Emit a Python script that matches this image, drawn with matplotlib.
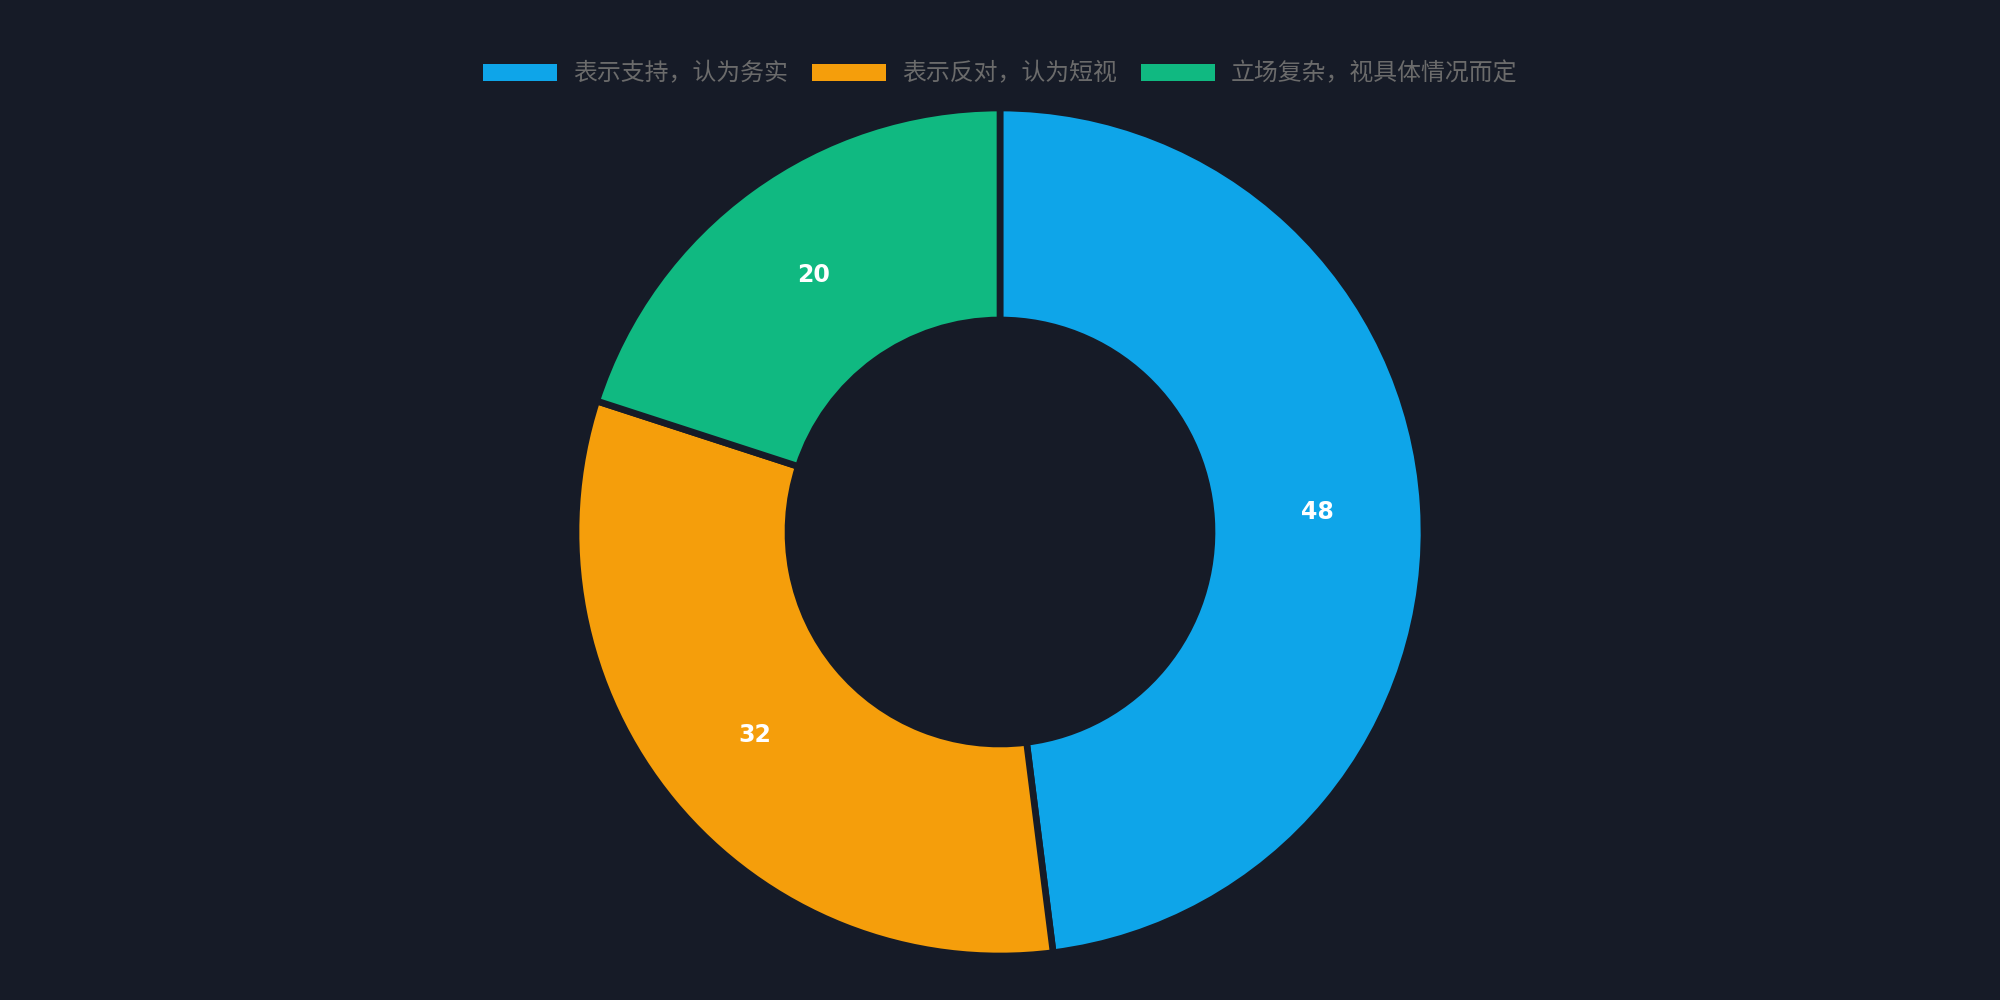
import matplotlib
matplotlib.use('Agg')
import matplotlib.pyplot as plt

labels = ['表示支持，认为务实', '表示反对，认为短视', '立场复杂，视具体情况而定']
values = [48, 32, 20]
colors = ['#0EA5E9', '#F59E0B', '#10B981']
bg = '#161B27'

plt.rcParams['font.family'] = ['Noto Sans CJK SC', 'DejaVu Sans']

fig = plt.figure(figsize=(20, 10), dpi=100, facecolor=bg)
ax = fig.add_axes([0.288, 0.044, 0.424, 0.848])
ax.set_facecolor(bg)

wedges, texts, autotexts = ax.pie(
    values, colors=colors, startangle=90, counterclock=False,
    radius=1.0, pctdistance=0.75,
    autopct=lambda p: f'{p:.0f}',
    wedgeprops=dict(width=0.5, edgecolor=bg, linewidth=4.8),
    textprops=dict(color='white', fontsize=17, fontweight='bold', family='DejaVu Sans'))
ax.set_xlim(-1, 1)
ax.set_ylim(-1, 1)
ax.set_aspect('equal')
ax.axis('off')

leg = fig.legend(wedges, labels, loc='center', bbox_to_anchor=(0.5, 0.926), ncol=3,
                 frameon=False, fontsize=17.2, handlelength=3.1, handleheight=0.76,
                 handletextpad=0.68, columnspacing=1.0, labelcolor='#6B6B6B')
for h in leg.legend_handles:
    h.set_edgecolor('none')

fig.savefig('out.png', dpi=100, facecolor=bg)
